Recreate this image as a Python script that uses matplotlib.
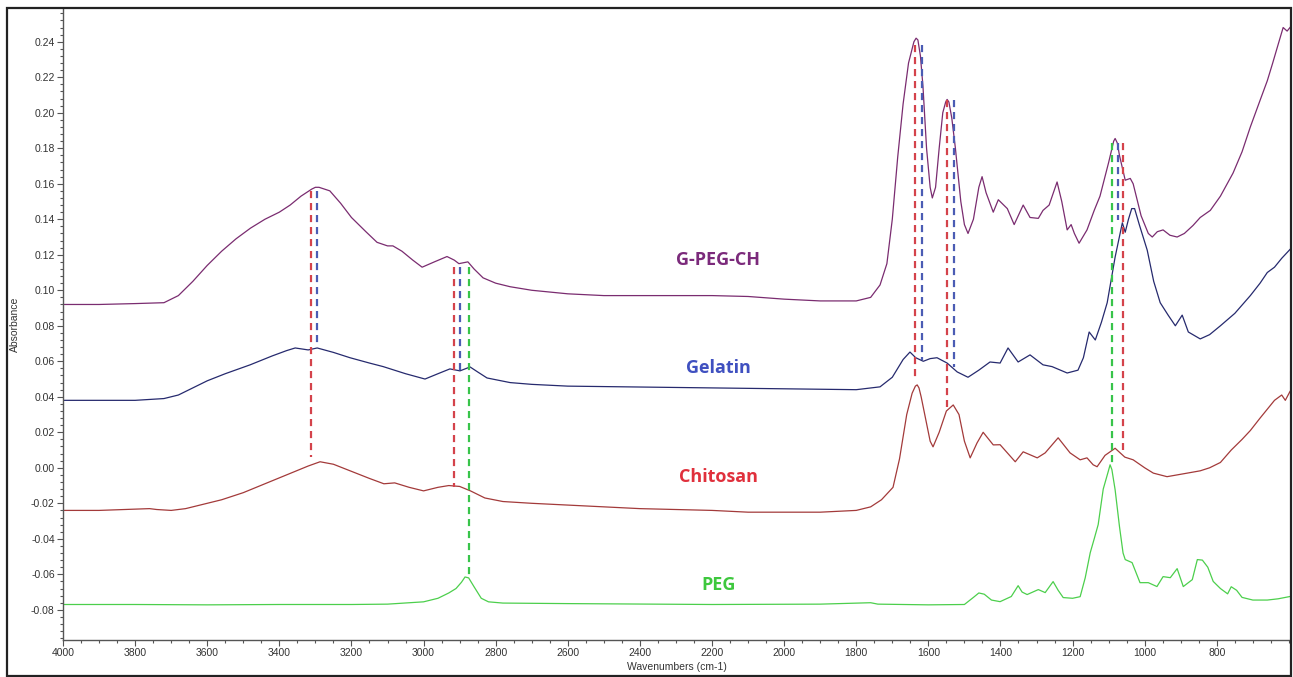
import matplotlib
matplotlib.use("Agg")
import matplotlib.pyplot as plt
import numpy as np
from matplotlib.patches import Rectangle
from matplotlib.ticker import MultipleLocator, FixedLocator, FormatStrFormatter

# ---- spectra (wavenumber, absorbance) ----
gpegch_wn = [4000, 3900, 3800, 3720, 3680, 3640, 3600, 3560, 3520, 3480, 3440, 3400, 3370, 3340,
             3310, 3300, 3290, 3260, 3230, 3200, 3160, 3129, 3100, 3085, 3060, 3030, 3004, 2970,
             2935, 2915, 2902, 2877, 2860, 2835, 2800, 2760, 2700, 2600, 2500, 2400, 2300, 2200,
             2100, 2000, 1900, 1800, 1760, 1734, 1715, 1700, 1685, 1670, 1655, 1640, 1634, 1629,
             1622, 1615, 1605, 1595, 1589, 1580, 1570, 1560, 1552, 1548, 1543, 1535, 1525, 1510,
             1500, 1490, 1475, 1460, 1451, 1440, 1420, 1406, 1381, 1362, 1337, 1318, 1295, 1282,
             1265, 1243, 1230, 1215, 1204, 1195, 1182, 1160, 1140, 1124, 1100, 1086, 1082, 1076,
             1070, 1054, 1040, 1032, 1010, 990, 979, 965, 949, 930, 910, 890, 866, 846, 818, 790,
             755, 730, 707, 680, 660, 645, 632, 616, 605, 597]
gpegch_abs = [0.092, 0.092, 0.0925, 0.093, 0.097, 0.105, 0.114, 0.122, 0.129, 0.135, 0.140, 0.144,
              0.148, 0.153, 0.157, 0.158, 0.158, 0.156, 0.149, 0.141, 0.133, 0.127, 0.125, 0.125,
              0.122, 0.117, 0.113, 0.116, 0.119, 0.117, 0.115, 0.116, 0.112, 0.107, 0.104, 0.102,
              0.100, 0.098, 0.097, 0.097, 0.097, 0.097, 0.0965, 0.095, 0.094, 0.094, 0.096, 0.103,
              0.115, 0.140, 0.175, 0.205, 0.228, 0.240, 0.242, 0.241, 0.232, 0.215, 0.180, 0.158,
              0.152, 0.158, 0.180, 0.200, 0.206, 0.2075, 0.206, 0.197, 0.180, 0.150, 0.137, 0.132,
              0.140, 0.158, 0.164, 0.155, 0.144, 0.151, 0.146, 0.137, 0.148, 0.141, 0.1405, 0.145,
              0.148, 0.161, 0.150, 0.134, 0.137, 0.132, 0.1265, 0.134, 0.145, 0.153, 0.172, 0.184,
              0.1855, 0.183, 0.176, 0.162, 0.163, 0.160, 0.142, 0.132, 0.130, 0.133, 0.134, 0.131,
              0.130, 0.132, 0.1365, 0.141, 0.145, 0.153, 0.166, 0.178, 0.192, 0.207, 0.218, 0.228,
              0.237, 0.248, 0.246, 0.248]

gelatin_wn = [4000, 3900, 3800, 3720, 3680, 3640, 3600, 3550, 3481, 3420, 3380, 3356, 3320, 3295,
              3250, 3204, 3150, 3112, 3050, 2996, 2960, 2927, 2899, 2871, 2850, 2824, 2760, 2700,
              2600, 2400, 2200, 2000, 1800, 1734, 1700, 1670, 1651, 1635, 1614, 1595, 1576, 1548,
              1520, 1490, 1460, 1429, 1401, 1379, 1351, 1318, 1282, 1257, 1215, 1185, 1170, 1154,
              1137, 1120, 1104, 1082, 1062, 1054, 1045, 1036, 1028, 1015, 993, 975, 957, 935, 915,
              896, 879, 846, 820, 790, 750, 707, 680, 660, 640, 620, 597]
gelatin_abs = [0.038, 0.038, 0.038, 0.039, 0.041, 0.045, 0.049, 0.053, 0.058, 0.063, 0.066, 0.0675,
               0.0664, 0.0675, 0.065, 0.062, 0.059, 0.057, 0.053, 0.050, 0.053, 0.0557, 0.0546,
               0.0568, 0.054, 0.0506, 0.048, 0.047, 0.046, 0.0455, 0.045, 0.0445, 0.044, 0.0456,
               0.051, 0.061, 0.0652, 0.062, 0.060, 0.0615, 0.062, 0.059, 0.054, 0.051, 0.055,
               0.0596, 0.059, 0.0675, 0.0596, 0.0636, 0.058, 0.057, 0.0534, 0.055, 0.062, 0.0765,
               0.072, 0.082, 0.093, 0.1187, 0.138, 0.1327, 0.140, 0.146, 0.146, 0.137, 0.1226,
               0.105, 0.093, 0.086, 0.080, 0.086, 0.0765, 0.0726, 0.075, 0.080, 0.087, 0.097,
               0.104, 0.110, 0.113, 0.118, 0.123]

chitosan_wn = [4000, 3900, 3760, 3740, 3700, 3660, 3620, 3560, 3500, 3440, 3380, 3320, 3287, 3250,
               3200, 3150, 3110, 3080, 3040, 3000, 2960, 2930, 2900, 2870, 2830, 2780, 2700, 2600,
               2500, 2400, 2200, 2100, 2000, 1900, 1800, 1760, 1730, 1698, 1680, 1660, 1645, 1636,
               1631, 1626, 1620, 1605, 1595, 1587, 1570, 1550, 1531, 1515, 1500, 1484, 1465, 1448,
               1420, 1401, 1359, 1337, 1298, 1276, 1240, 1207, 1179, 1160, 1143, 1132, 1110, 1082,
               1055, 1032, 1000, 976, 938, 882, 846, 820, 790, 760, 730, 707, 680, 660, 640, 620,
               610, 597]
chitosan_abs = [-0.024, -0.024, -0.023, -0.0235, -0.024, -0.023, -0.021, -0.018, -0.014, -0.009,
                -0.004, 0.001, 0.0034, 0.002, -0.002, -0.006, -0.009, -0.0085, -0.011, -0.013,
                -0.011, -0.010, -0.0105, -0.013, -0.017, -0.019, -0.020, -0.021, -0.022, -0.023,
                -0.024, -0.025, -0.025, -0.025, -0.024, -0.022, -0.018, -0.011, 0.005, 0.030,
                0.042, 0.046, 0.0467, 0.045, 0.040, 0.025, 0.015, 0.0118, 0.020, 0.032, 0.0354,
                0.030, 0.015, 0.0056, 0.014, 0.020, 0.0129, 0.013, 0.0034, 0.009, 0.0056, 0.0084,
                0.0169, 0.0084, 0.0045, 0.0056, 0.0017, 0.0006, 0.007, 0.011, 0.006, 0.0045, 0.000,
                -0.003, -0.005, -0.003, -0.0017, 0.000, 0.003, 0.010, 0.016, 0.021, 0.028, 0.033,
                0.038, 0.041, 0.038, 0.043]

peg_wn = [4000, 3800, 3600, 3400, 3200, 3100, 3000, 2960, 2930, 2910, 2895, 2885, 2875, 2860, 2840,
          2820, 2780, 2600, 2200, 1900, 1760, 1740, 1600, 1500, 1475, 1460, 1445, 1425, 1401, 1370,
          1351, 1340, 1326, 1295, 1276, 1254, 1240, 1226, 1200, 1179, 1165, 1151, 1140, 1129, 1115,
          1101, 1096, 1091, 1082, 1070, 1060, 1054, 1035, 1013, 990, 966, 949, 929, 910, 893, 868,
          854, 840, 825, 810, 790, 770, 760, 745, 730, 700, 660, 630, 597]
peg_abs = [-0.077, -0.077, -0.0772, -0.077, -0.077, -0.0768, -0.0755, -0.0735, -0.0705, -0.068,
           -0.0645, -0.0615, -0.062, -0.067, -0.0735, -0.0755, -0.0762, -0.0765, -0.077, -0.0768,
           -0.076, -0.0768, -0.0772, -0.077, -0.073, -0.0705, -0.0712, -0.0745, -0.0754, -0.0725,
           -0.0664, -0.070, -0.0714, -0.0686, -0.0703, -0.0641, -0.069, -0.0731, -0.0735, -0.0726,
           -0.062, -0.0478, -0.040, -0.032, -0.012, -0.002, 0.0017, -0.001, -0.0124, -0.033,
           -0.048, -0.0517, -0.0534, -0.0647, -0.0647, -0.0669, -0.0613, -0.0619, -0.0568,
           -0.0669, -0.063, -0.0517, -0.052, -0.056, -0.064, -0.068, -0.071, -0.067, -0.069,
           -0.073, -0.0745, -0.0745, -0.0738, -0.0725]

# ---- peak guide lines: wavenumber, top, bottom, colour key ----
guide_wn = [3313, 3296, 2915, 2898, 2874, 1636, 1618, 1549, 1530, 1091, 1075, 1059]
guide_top = [0.156, 0.156, 0.113, 0.113, 0.113, 0.238, 0.238, 0.207, 0.207, 0.183, 0.183, 0.183]
guide_bot = [0.006, 0.068, -0.011, 0.055, -0.062, 0.0495, 0.0607, 0.0345, 0.057, 0.002, 0.1395, 0.010]
guide_key = ["r", "b", "r", "b", "g", "r", "b", "r", "b", "g", "b", "r"]

labels = ["G-PEG-CH", "Gelatin", "Chitosan", "PEG"]
label_y = [0.117, 0.0563, -0.005, -0.066]

line_colors = ["#7a2c70", "#262a6e", "#a33a3a", "#4ccf4c"]
text_colors = ["#7b2a7b", "#3f50c0", "#e0303c", "#3ec83e"]
guide_colors = {"r": "#d4434b", "b": "#4b5cb4", "g": "#38c44a"}

plt.rcParams["font.family"] = ["Liberation Sans", "DejaVu Sans"]

fig = plt.figure(figsize=(12.93, 6.77), dpi=100)
ax = fig.add_axes([63 / 1293, 1 - 640 / 677, (1290 - 63) / 1293, (640 - 8) / 677])

spectra = [(gpegch_wn, gpegch_abs), (gelatin_wn, gelatin_abs),
           (chitosan_wn, chitosan_abs), (peg_wn, peg_abs)]
for (wn, ab), c in zip(spectra, line_colors):
    ax.plot(wn, ab, color=c, lw=0.9)

for w, t, b, k in zip(guide_wn, guide_top, guide_bot, guide_key):
    ax.plot([w, w], [t, b], color=guide_colors[k], lw=1.6, ls=(0, (3.2, 2.2)))

for name, yy, c in zip(labels, label_y, text_colors):
    ax.text(2183, yy, name, color=c, fontsize=13, fontweight="bold",
            family=["Open Sans", "DejaVu Sans"], ha="center", va="center")

ax.set_xlim(4000, 597)
ax.set_ylim(-0.097, 0.259)
ax.xaxis.set_major_locator(FixedLocator(np.arange(4000, 799, -200)))
ax.xaxis.set_minor_locator(MultipleLocator(50))
ax.yaxis.set_major_locator(MultipleLocator(0.02))
ax.yaxis.set_minor_locator(MultipleLocator(0.004))
ax.yaxis.set_major_formatter(FormatStrFormatter("%.2f"))

for side in ["top", "right"]:
    ax.spines[side].set_visible(False)
for side in ["left", "bottom"]:
    ax.spines[side].set_color("#555555")
    ax.spines[side].set_linewidth(1.0)

ax.tick_params(which="major", direction="out", length=4, width=0.8, color="#555555",
               labelsize=7.5, labelcolor="#333333", pad=2)
ax.tick_params(which="minor", direction="out", length=2, width=0.8, color="#555555")

ax.set_xlabel("Wavenumbers (cm-1)", fontsize=7.5, color="#333333", labelpad=3)
ax.set_ylabel("Absorbance", fontsize=7.5, color="#333333", labelpad=8)

# window border around the whole picture
fig.patches.append(Rectangle((7 / 1293, 1 - 676 / 677), (1291 - 7) / 1293, (676 - 8) / 677,
                             transform=fig.transFigure, fill=False, edgecolor="#222222",
                             lw=1.6, zorder=10))

fig.savefig("out.png", dpi=100)
